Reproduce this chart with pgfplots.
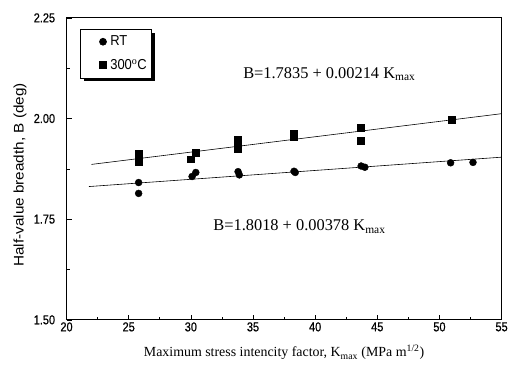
\documentclass[border=0pt]{standalone}
\usepackage{fontspec}
\usepackage{pgfplots}
\pgfplotsset{compat=1.18}
\usetikzlibrary{shadows}
\setmainfont{Liberation Serif}
\newfontfamily\tickfont[FakeStretch=0.85,FakeBold=0.6]{Liberation Sans}
\newfontfamily\lblfont[FakeStretch=1.1]{Liberation Sans}
\newfontfamily\legfont[FakeStretch=0.9]{Liberation Sans}
\newfontfamily\tms{Liberation Serif}
\begin{document}
\begin{tikzpicture}
\begin{axis}[name=ax,
  scale only axis, width=438pt, height=304pt,
  xmin=20, xmax=55, ymin=1.5, ymax=2.25,
  xtick={20,25,...,55}, ytick={1.5,1.75,2,2.25},
  minor x tick num=1, minor y tick num=1,
  tick align=inside, xtick pos=bottom, ytick pos=left,
  major tick length=5pt, minor tick length=3pt,
  axis line style={line width=0.9pt},
  every tick/.style={black, line width=0.6pt},
  /pgf/number format/assume math mode=true,
  tick label style={font=\tickfont\fontsize{13}{14}\selectfont},
  yticklabel style={/pgf/number format/fixed, /pgf/number format/precision=2, /pgf/number format/fixed zerofill, xshift=-8pt},
  xticklabel style={yshift=1pt},
  xlabel={Maximum stress intencity factor, K\textsubscript{max} (MPa m\textsuperscript{1/2})},
  xlabel style={font=\tms\fontsize{14}{16}\selectfont, at={(axis description cs:0.5,0)}, anchor=center, yshift=-33pt},
  ylabel={Half-value breadth, B (deg)},
  ylabel style={font=\lblfont\fontsize{14}{16}\selectfont, at={(axis description cs:-0.107,0.48)}, anchor=center},
  legend style={at={(rel axis cs:0.032,0.964)}, anchor=north west, draw=black, line width=0.7pt, fill=white,
    font=\legfont\fontsize{14.5}{16}\selectfont, inner xsep=3pt, inner ysep=5pt, row sep=8pt,
    /tikz/every even column/.append style={column sep=6pt},
    drop shadow={shadow xshift=3.5pt, shadow yshift=-3.5pt, fill=black, opacity=1}},
  legend image code/.code={\path (-19pt,0pt) (5pt,0pt); \draw[#1] plot coordinates {(0pt,0pt)};},
  legend cell align=left,
]
\addplot[only marks, mark=*, mark size=3.5pt, black] coordinates {
(25.8,1.841) (25.8,1.814) (30.1,1.856) (30.4,1.866) (33.8,1.868) (33.9,1.860)
(38.3,1.869) (38.4,1.866) (43.7,1.882) (44.0,1.879) (50.9,1.890) (52.7,1.891)};
\addlegendentry{RT}
\addplot[only marks, mark=square*, mark size=3.5pt, black] coordinates {
(25.8,1.912) (25.8,1.902) (25.8,1.893) (30.0,1.899) (30.4,1.916)
(33.8,1.948) (33.8,1.935) (33.8,1.925) (38.3,1.962) (38.3,1.955)
(43.7,1.977) (43.7,1.945) (51.0,1.997)};
\addlegendentry{300$^{\rm o}$C}
\addplot[black, line width=0.6pt, no markers, forget plot] coordinates {(22,1.886) (55,2.012)};
\addplot[black, line width=0.6pt, no markers, forget plot] coordinates {(21.8,1.831) (55,1.904)};
\node[anchor=west, inner sep=0pt, font=\tms\fontsize{16.5}{18}\selectfont] at (axis cs:34.2,2.110) {B=1.7835 + 0.00214 K\textsubscript{max}};
\node[anchor=west, inner sep=0pt, font=\tms\fontsize{16.5}{18}\selectfont] at (axis cs:31.8,1.732) {B=1.8018 + 0.00378 K\textsubscript{max}};
\end{axis}
\path ([shift={(-67pt,-47pt)}]ax.south west) rectangle ([shift={(6pt,18pt)}]ax.north east);
\end{tikzpicture}
\end{document}
